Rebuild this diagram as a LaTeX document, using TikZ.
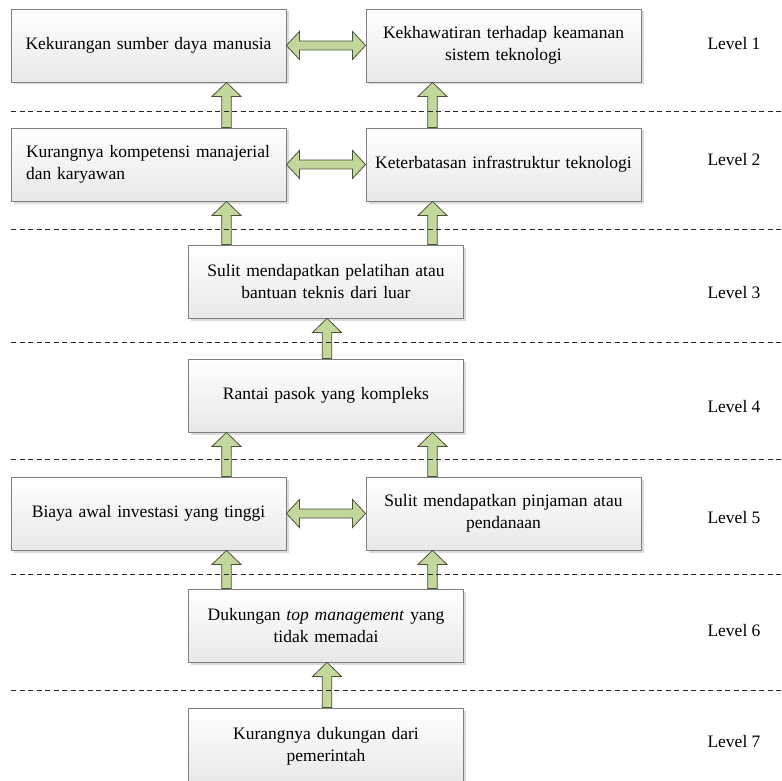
\documentclass[tikz,border=0pt]{standalone}
\usepackage{fontspec}
\setmainfont{Liberation Serif}
\usetikzlibrary{calc,shadows}
\definecolor{arrfill}{HTML}{C3D69B}
\definecolor{arrdraw}{HTML}{4A5236}
\definecolor{boxdraw}{HTML}{7F7F7F}
\tikzset{
  box/.style={draw=boxdraw, line width=0.9pt, top color=white, bottom color=black!9,
    minimum width=275pt, minimum height=73pt, inner sep=0pt,
    general shadow={fill=black!14, shadow xshift=2.5pt, shadow yshift=-2.5pt},
    font=\fontsize{17.5}{22}\selectfont, align=center, text width=262pt},
  lvl/.style={font=\fontsize{17.5}{22}\selectfont, inner sep=0pt},
  blk/.style={fill=arrfill, draw=arrdraw, line width=0.8pt, line join=miter},
  sep/.style={draw=black!85, line width=0.8pt, dash pattern=on 5pt off 3.5pt},
}
% vertical block arrow: #1 lower node, #2 upper node, #3 x position
\newcommand{\vblk}[3]{%
  \path (#3,0 |- #1.north) coordinate (vs) (#3,0 |- #2.south) coordinate (ve);
  \draw[blk] ($(vs)+(-4.8,0)$) -- ($(ve)+(-4.8,14)$) -- ($(ve)+(-14.5,14)$) -- (ve)
    -- ($(ve)+(14.5,14)$) -- ($(ve)+(4.8,14)$) -- ($(vs)+(4.8,0)$) -- cycle;}
% horizontal double block arrow: #1 left node, #2 right node
\newcommand{\hblk}[2]{%
  \path (#1.east) coordinate (hs) (#2.west) coordinate (he);
  \draw[blk] (hs) -- ($(hs)+(13,-14)$) -- ($(hs)+(13,-4.5)$) -- ($(he)+(-13,-4.5)$)
    -- ($(he)+(-13,-14)$) -- (he) -- ($(he)+(-13,14)$) -- ($(he)+(-13,4.5)$)
    -- ($(hs)+(13,4.5)$) -- ($(hs)+(13,14)$) -- cycle;}
\begin{document}
\begin{tikzpicture}[x=1pt,y=-1pt]
\useasboundingbox (0,0) rectangle (782,781);
% boxes
\node[box] (a1) at (148.5,45.5) {Kekurangan sumber daya manusia};
\node[box] (b1) at (503.5,45.5) {Kekhawatiran terhadap keamanan\\ sistem teknologi};
\node[box, align=left, text width=245pt] (a2) at (148.5,164.5) {Kurangnya kompetensi manajerial\\dan karyawan};
\node[box] (b2) at (503.5,164.5) {Keterbatasan infrastruktur teknologi};
\node[box] (c3) at (326,281.5) {Sulit mendapatkan pelatihan atau\\ bantuan teknis dari luar};
\node[box] (c4) at (326,395.5) {Rantai pasok yang kompleks};
\node[box] (a5) at (148.5,513.5) {Biaya awal investasi yang tinggi};
\node[box] (b5) at (503.5,513.5) {Sulit mendapatkan pinjaman atau\\ pendanaan};
\node[box] (c6) at (326,625.5) {Dukungan \textit{top management} yang\\ tidak memadai};
\node[box, minimum height=76pt] (c7) at (326,746) {Kurangnya dukungan dari\\ pemerintah};
% level labels
\node[lvl] (l1) at (734,44) {Level 1};
\node[lvl] (l2) at (734,160) {Level 2};
\node[lvl] (l3) at (734,293) {Level 3};
\node[lvl] (l4) at (734,407) {Level 4};
\node[lvl] (l5) at (734,518) {Level 5};
\node[lvl] (l6) at (734,631) {Level 6};
\node[lvl] (l7) at (734,742) {Level 7};
% arrows
\hblk{a1}{b1}
\hblk{a2}{b2}
\hblk{a5}{b5}
\vblk{a2}{a1}{226.5}
\vblk{b2}{b1}{432.5}
\vblk{c3}{a2}{226.5}
\vblk{c3}{b2}{432.5}
\vblk{c4}{c3}{327}
\vblk{a5}{c4}{226.5}
\vblk{b5}{c4}{432.5}
\vblk{c6}{a5}{226.5}
\vblk{c6}{b5}{432.5}
\vblk{c7}{c6}{327}
% separators
\foreach \yy in {111,229,342,459,574,690}
  \draw[sep] (11,\yy) -- (782,\yy);
\end{tikzpicture}
\end{document}
